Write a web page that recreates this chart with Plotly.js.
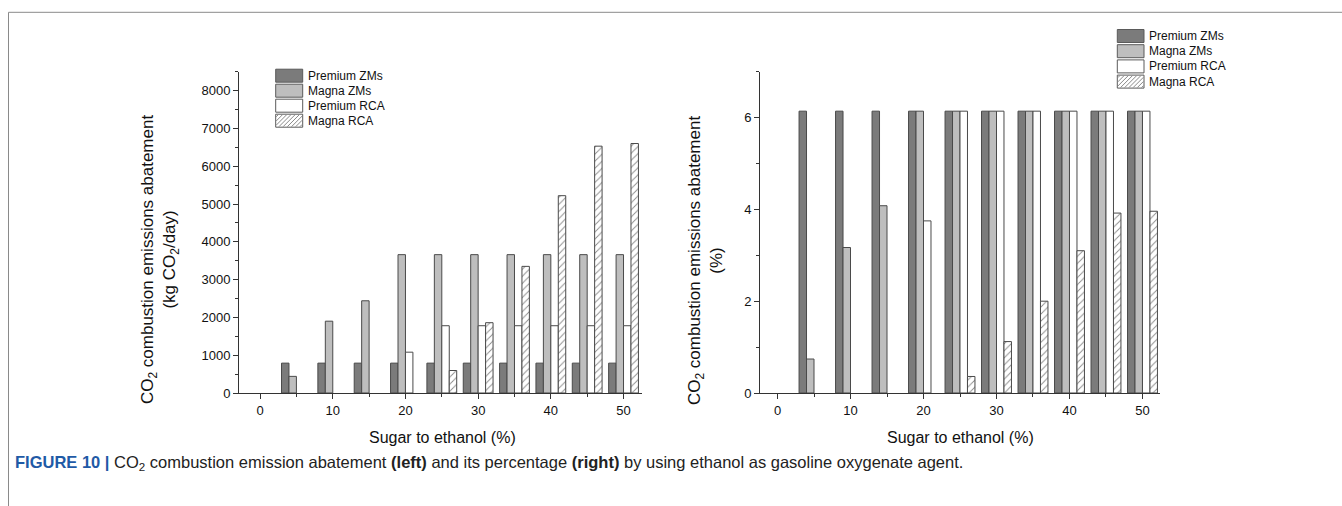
<!DOCTYPE html>
<html>
<head>
<meta charset="utf-8">
<script src="https://cdn.plot.ly/plotly-3.0.1.min.js"></script>
<style>
html,body{margin:0;padding:0;background:#fff;}
#chart{width:1342px;height:506px;}
</style>
</head>
<body>
<div id="chart"></div>
<script>
// ---- data ----
const sugarToEthanol = [5, 10, 15, 20, 25, 30, 35, 40, 45, 50];
const seriesNames = ['Premium ZMs', 'Magna ZMs', 'Premium RCA', 'Magna RCA'];

// left: CO2 combustion emissions abatement (kg CO2/day)
const premiumZMsKg = [790, 790, 790, 790, 790, 790, 790, 790, 790, 790];
const magnaZMsKg   = [440, 1900, 2440, 3660, 3660, 3660, 3660, 3660, 3660, 3660];
const premiumRCAKg = [0, 0, 0, 1080, 1780, 1780, 1780, 1780, 1780, 1780];
const magnaRCAKg   = [0, 0, 0, 0, 595, 1860, 3350, 5220, 6530, 6600];

// right: CO2 combustion emissions abatement (%)
const premiumZMsPct = [6.14, 6.14, 6.14, 6.14, 6.14, 6.14, 6.14, 6.14, 6.14, 6.14];
const magnaZMsPct   = [0.74, 3.17, 4.08, 6.14, 6.14, 6.14, 6.14, 6.14, 6.14, 6.14];
const premiumRCAPct = [0, 0, 0, 3.75, 6.14, 6.14, 6.14, 6.14, 6.14, 6.14];
const magnaRCAPct   = [0, 0, 0, 0, 0.36, 1.12, 2.0, 3.1, 3.92, 3.96];

const xTickVals = [0, 10, 20, 30, 40, 50];
const leftYTicks = [0, 1000, 2000, 3000, 4000, 5000, 6000, 7000, 8000];
const rightYTicks = [0, 2, 4, 6];

// ---- styles ----
const W = 1342, H = 506;
const px = v => v / W;
const py = v => 1 - v / H;
const fills = ['#7b7b7b', '#bebebe', '#ffffff', '#ffffff'];
const hatch = {shape: '/', fgcolor: '#8a8a8a', bgcolor: '#ffffff', size: 5, solidity: 0.18, fillmode: 'replace'};
const FONT = 'Liberation Sans, Arial, sans-serif';

function markerFor(i, ys) {
  const m = {color: fills[i], line: {color: '#4a4a4a', width: ys.map(v => (v > 0 ? 1 : 0))}};
  if (i === 3) m.pattern = hatch;
  return m;
}

const leftSeries = [premiumZMsKg, magnaZMsKg, premiumRCAKg, magnaRCAKg];
const rightSeries = [premiumZMsPct, magnaZMsPct, premiumRCAPct, magnaRCAPct];

const traces = [];
leftSeries.forEach((ys, i) => traces.push({
  type: 'bar', x: sugarToEthanol, y: ys, name: seriesNames[i],
  marker: markerFor(i, ys), xaxis: 'x', yaxis: 'y', showlegend: false, hoverinfo: 'x+y+name'
}));
rightSeries.forEach((ys, i) => traces.push({
  type: 'bar', x: sugarToEthanol, y: ys, name: seriesNames[i],
  marker: markerFor(i, ys), xaxis: 'x2', yaxis: 'y2', showlegend: false, hoverinfo: 'x+y+name'
}));

const axisCommon = {
  showgrid: false, zeroline: false, showline: true, linecolor: '#333', linewidth: 1,
  ticks: 'outside', ticklen: 5, tickwidth: 1, tickcolor: '#333',
  tickfont: {family: FONT, size: 13, color: '#111'}, fixedrange: true
};

const yDomain = [py(393), py(71.7)];

// ---- manual legends ----
const shapes = [];
const annotations = [];
function hatchPath(x0, y0, x1, y1, step) {
  let d = '';
  for (let c = x0 + y0 + step / 2; c < x1 + y1; c += step) {
    const xa = Math.max(x0, c - y1), xb = Math.min(x1, c - y0);
    if (xb <= xa) continue;
    d += 'M' + px(xa) + ',' + py(c - xa) + 'L' + px(xb) + ',' + py(c - xb);
  }
  return d;
}
function addLegend(sx0, sx1, rowY, rowStep, textX) {
  seriesNames.forEach((name, i) => {
    const cy = rowY + i * rowStep;
    const y0 = cy - 6.5, y1 = cy + 6.5;
    shapes.push({type: 'rect', xref: 'paper', yref: 'paper', x0: px(sx0), x1: px(sx1), y0: py(y1), y1: py(y0),
      fillcolor: fills[i], line: {color: '#5a5a5a', width: 1}, layer: 'above'});
    if (i === 3) {
      shapes.push({type: 'path', xref: 'paper', yref: 'paper', path: hatchPath(sx0 + 0.5, y0 + 0.5, sx1 - 0.5, y1 - 0.5, 4.2),
        line: {color: '#8a8a8a', width: 1}, layer: 'above'});
    }
    annotations.push({xref: 'paper', yref: 'paper', x: px(textX), y: py(cy), xanchor: 'left', yanchor: 'middle',
      showarrow: false, text: name, font: {family: FONT, size: 12, color: '#111'}});
  });
}
addLegend(275.7, 302.7, 75.7, 15, 306);
addLegend(1117.3, 1144, 36, 15.2, 1146.5);

// axis titles
const xTitleFont = {family: FONT, size: 16, color: '#111'};
const yTitleFont = {family: FONT, size: 17, color: '#111'};
annotations.push({xref: 'paper', yref: 'paper', x: px(442), y: py(437), xanchor: 'center', yanchor: 'middle',
  showarrow: false, text: 'Sugar to ethanol (%)', font: xTitleFont});
annotations.push({xref: 'paper', yref: 'paper', x: px(960), y: py(437), xanchor: 'center', yanchor: 'middle',
  showarrow: false, text: 'Sugar to ethanol (%)', font: xTitleFont});
annotations.push({xref: 'paper', yref: 'paper', x: px(160), y: py(260), xanchor: 'center', yanchor: 'middle',
  showarrow: false, textangle: -90,
  text: 'CO<sub>2</sub> combustion emissions abatement<br>(kg CO<sub>2</sub>/day)', font: yTitleFont});
annotations.push({xref: 'paper', yref: 'paper', x: px(705), y: py(260), xanchor: 'center', yanchor: 'middle',
  showarrow: false, textangle: -90,
  text: 'CO<sub>2</sub> combustion emissions abatement<br>(%)', font: yTitleFont});

// caption
annotations.push({xref: 'paper', yref: 'paper', x: px(13), y: py(463), xanchor: 'left', yanchor: 'middle',
  showarrow: false, align: 'left',
  text: '<span style="color:#1f5aa6"><b>FIGURE 10 |</b></span> CO<sub>2</sub> combustion emission abatement <b>(left)</b> and its percentage <b>(right)</b> by using ethanol as gasoline oxygenate agent.',
  font: {family: FONT, size: 16.5, color: '#222'}});

// frame lines
shapes.push({type: 'line', xref: 'paper', yref: 'paper', x0: px(8.5), x1: 1, y0: py(12.3), y1: py(12.3), line: {color: '#8a8a8a', width: 1}});
shapes.push({type: 'line', xref: 'paper', yref: 'paper', x0: px(8.5), x1: px(8.5), y0: py(12.3), y1: 0, line: {color: '#8a8a8a', width: 1}});

const layout = {
  width: W, height: H,
  margin: {l: 0, r: 0, t: 0, b: 0},
  paper_bgcolor: '#fff', plot_bgcolor: '#fff',
  barmode: 'group', bargap: 0.18, bargroupgap: 0,
  showlegend: false,
  font: {family: FONT, color: '#111'},
  xaxis: Object.assign({}, axisCommon, {domain: [px(239), px(641.7)], range: [-2.9, 52.5], anchor: 'y',
    tickvals: xTickVals, ticktext: xTickVals.map(String),
    minor: {dtick: 5, tick0: 5, ticks: 'outside', ticklen: 3, tickcolor: '#333', showgrid: false}}),
  yaxis: Object.assign({}, axisCommon, {domain: yDomain, range: [0, 8500], anchor: 'x',
    tickvals: leftYTicks, ticktext: leftYTicks.map(String),
    minor: {dtick: 500, tick0: 0, ticks: 'outside', ticklen: 3, tickcolor: '#333', showgrid: false}}),
  xaxis2: Object.assign({}, axisCommon, {domain: [px(760), px(1160)], range: [-2.4, 52.4], anchor: 'y2',
    tickvals: xTickVals, ticktext: xTickVals.map(String),
    minor: {dtick: 5, tick0: 5, ticks: 'outside', ticklen: 3, tickcolor: '#333', showgrid: false}}),
  yaxis2: Object.assign({}, axisCommon, {domain: yDomain, range: [0, 7], anchor: 'x2',
    tickvals: rightYTicks, ticktext: rightYTicks.map(String),
    minor: {dtick: 1, tick0: 0, ticks: 'outside', ticklen: 3, tickcolor: '#333', showgrid: false}}),
  shapes: shapes,
  annotations: annotations
};

Plotly.newPlot('chart', traces, layout, {displayModeBar: false, staticPlot: true});
</script>
</body>
</html>
